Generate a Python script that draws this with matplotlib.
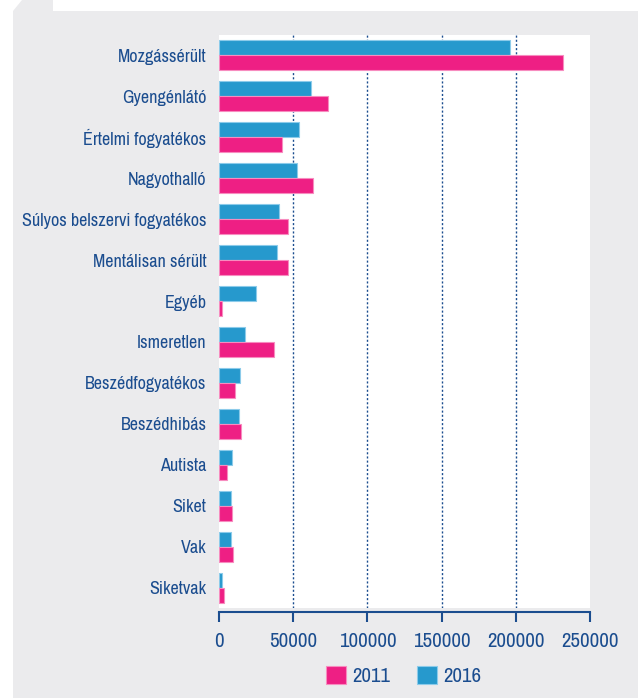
import matplotlib
matplotlib.use('Agg')
import matplotlib.pyplot as plt
import numpy as np
from matplotlib import font_manager
from matplotlib.patches import Polygon, Rectangle

categories = ['Mozgássérült', 'Gyengénlátó', 'Értelmi fogyatékos', 'Nagyothalló',
              'Súlyos belszervi fogyatékos', 'Mentálisan sérült', 'Egyéb', 'Ismeretlen',
              'Beszédfogyatékos', 'Beszédhibás', 'Autista', 'Siket', 'Vak', 'Siketvak']
vals_2016 = [196000, 61800, 53700, 52600, 40400, 39100, 24900, 17300,
             14100, 13500, 9000, 8100, 8100, 2200]
vals_2011 = [232000, 73400, 42400, 63300, 46500, 46500, 2200, 37000,
             10800, 14800, 5200, 8500, 9200, 3400]
xticks = [0, 50000, 100000, 150000, 200000, 250000]

PINK = '#ee1f84'
BLUE = '#2699cd'
NAVY = '#1b4d8f'
GRAY = '#ebebed'

# look for a narrow/condensed face, the original uses a condensed font
narrow = sorted({f.name for f in font_manager.fontManager.ttflist
                 if 'Narrow' in f.name or 'Condensed' in f.name
                 or str(f.stretch) in ('condensed', 'semi-condensed', 'extra-condensed')})
main_font = narrow[0] if narrow else 'Lato'
plt.rcParams['font.family'] = [main_font, 'DejaVu Sans']
plt.rcParams['font.stretch'] = 'condensed'

W, H = 638, 698
fig = plt.figure(figsize=(W / 100, H / 100), dpi=100)
fig.patch.set_facecolor('white')

# background shape with cut corner, plus white strip on top
pts = [(13, H), (13, 11), (22, 0), (W, 0), (W, H)]
fig.patches.append(Polygon([(x / W, 1 - y / H) for x, y in pts], closed=True,
                           transform=fig.transFigure, facecolor=GRAY,
                           edgecolor='none', zorder=-10))
fig.patches.append(Rectangle((53 / W, 1 - 11 / H), 1, 11 / H,
                             transform=fig.transFigure, facecolor='white',
                             edgecolor='none', zorder=-9))

ax = fig.add_axes([219 / W, 1 - 608 / H, (590 - 219) / W, (608 - 35) / H])
ax.set_facecolor('white')

y = np.arange(len(categories))
h = 0.366
ax.barh(y - h / 2, vals_2016, height=h, color=BLUE, edgecolor='#8ccbea',
        linewidth=0.8, label='2016', zorder=3)
ax.barh(y + h / 2, vals_2011, height=h, color=PINK, edgecolor='#f78cbf',
        linewidth=0.8, label='2011', zorder=3)

ax.set_xlim(0, 250000)
ax.set_ylim(13.5, -0.5)
ax.set_yticks(y)
ax.set_yticklabels(categories)
ax.tick_params(axis='y', length=0, pad=9, labelsize=13, labelcolor=NAVY)

ax.set_xticks(xticks)
ax.set_xticklabels([str(v) for v in xticks])
ax.tick_params(axis='x', length=7.5, width=1.5, color=NAVY, direction='out',
               pad=7, labelsize=15, labelcolor=NAVY)

for v in xticks[1:-1]:
    ax.axvline(v, color=NAVY, linestyle=(0, (1.5, 1.5)), linewidth=1, zorder=2)

for s in ['top', 'right', 'left']:
    ax.spines[s].set_visible(False)
ax.spines['bottom'].set_position(('outward', 3))
ax.spines['bottom'].set_color(NAVY)
ax.spines['bottom'].set_linewidth(1.5)

handles, labels = ax.get_legend_handles_labels()
fig.legend(handles[::-1], labels[::-1], loc='center', ncol=2,
           bbox_to_anchor=(404 / W, 1 - 676 / H), frameon=False,
           handlelength=0.95, handleheight=0.95, handletextpad=0.3,
           columnspacing=1.3, fontsize=15, labelcolor=NAVY)

fig.savefig('out.png', dpi=100)
